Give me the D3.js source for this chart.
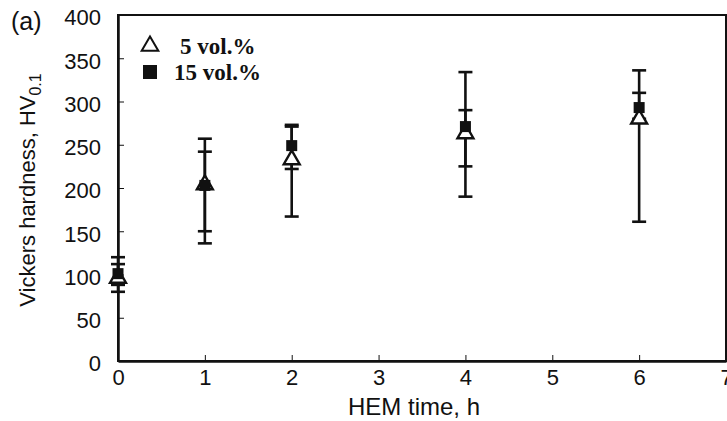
<!DOCTYPE HTML>
<html>
<head>
	<meta charset="utf-8">
	<style>
		body { margin: 0; background: #fff; }
		.axis text { font-family: "Liberation Sans", Arial, sans-serif; font-size: 22px; fill: #111; }
		.axis path, .axis line { stroke: #111; stroke-width: 2px; }
		.frame { fill: none; stroke: #111; stroke-width: 2px; }
		.err { stroke: #111; stroke-width: 2.6px; fill: none; }
		.lab { font-family: "Liberation Sans", Arial, sans-serif; font-size: 22px; fill: #111; }
		.leg { font-family: "Liberation Serif", "Times New Roman", serif; font-size: 23px; font-weight: bold; fill: #111; }
	</style>
	<script src="https://cdn.jsdelivr.net/npm/d3@7"></script>
</head>
<body>
<script>
// HEM time (h)
var times = [0, 1, 2, 4, 6];
// 5 vol.% (triangles)
var hv5 = [97, 205, 234, 264, 281];
var hv5Lo = [80, 136, 167, 190, 161];
var hv5Hi = [120, 257, 273, 334, 336];
// 15 vol.% (squares)
var hv15 = [101, 203, 249, 271, 293];
var hv15Lo = [88, 150, 222, 225, 280];
var hv15Hi = [112, 242, 271, 290, 310];
var xTicks = [0, 1, 2, 3, 4, 5, 6, 7];
var yTicks = [0, 50, 100, 150, 200, 250, 300, 350, 400];

var margin = {top: 15, right: 1, bottom: 60, left: 118};
var width = 727 - margin.left - margin.right;
var height = 421 - margin.top - margin.bottom;

var svg = d3.select("body").append("svg")
	.attr("width", 727)
	.attr("height", 421);
var g = svg.append("g")
	.attr("transform", "translate(" + margin.left + "," + margin.top + ")");

var x = d3.scaleLinear().domain([0, 7]).range([0, width]);
var y = d3.scaleLinear().domain([0, 400]).range([height, 0]);

g.append("g")
	.attr("class", "axis")
	.attr("transform", "translate(0," + height + ")")
	.call(d3.axisBottom(x).tickValues(xTicks).tickFormat(d3.format("d")).tickSize(-6).tickPadding(14).tickSizeOuter(0));
g.append("g")
	.attr("class", "axis")
	.call(d3.axisLeft(y).tickValues(yTicks).tickSize(-6).tickPadding(17).tickSizeOuter(0));
g.selectAll(".axis .tick line").style("stroke-width", "1px");
g.selectAll(".axis .tick text").attr("dy", "0.45em");
g.selectAll(".axis .domain").style("stroke-width", "2.5px");

g.append("rect")
	.attr("class", "frame")
	.attr("x", 0).attr("y", 0)
	.attr("width", width).attr("height", height);

var pts = times.map(function(t, i) {
	return {t: t, a: hv5[i], aLo: hv5Lo[i], aHi: hv5Hi[i], b: hv15[i], bLo: hv15Lo[i], bHi: hv15Hi[i]};
});

var capW = 7;
function errBar(sel, lo, hi) {
	sel.append("line").attr("class", "err")
		.attr("x1", function(d) { return x(d.t); }).attr("x2", function(d) { return x(d.t); })
		.attr("y1", function(d) { return y(d[lo]); }).attr("y2", function(d) { return y(d[hi]); });
	[lo, hi].forEach(function(k) {
		sel.append("line").attr("class", "err")
			.attr("x1", function(d) { return x(d.t) - capW; }).attr("x2", function(d) { return x(d.t) + capW; })
			.attr("y1", function(d) { return y(d[k]); }).attr("y2", function(d) { return y(d[k]); });
	});
}

var pg = g.selectAll(".pt").data(pts).enter().append("g").attr("class", "pt");
errBar(pg, "aLo", "aHi");
errBar(pg, "bLo", "bHi");

var tri = d3.symbol().type(d3.symbolTriangle).size(110);
pg.append("path")
	.attr("d", tri)
	.attr("transform", function(d) { return "translate(" + x(d.t) + "," + (y(d.a) + 1) + ")"; })
	.attr("fill", "#fff").attr("stroke", "#111").attr("stroke-width", 2.4);
pg.append("rect")
	.attr("x", function(d) { return x(d.t) - 5.5; })
	.attr("y", function(d) { return y(d.b) - 5.5; })
	.attr("width", 11).attr("height", 11)
	.attr("fill", "#111");

// legend
var leg = svg.append("g").attr("transform", "translate(150,0)");
leg.append("path")
	.attr("d", d3.symbol().type(d3.symbolTriangle).size(120))
	.attr("transform", "translate(0,46)")
	.attr("fill", "#fff").attr("stroke", "#111").attr("stroke-width", 2);
leg.append("text").attr("class", "leg").attr("x", 30).attr("y", 54).text("5 vol.%");
leg.append("rect").attr("x", -7).attr("y", 65).attr("width", 14).attr("height", 14).attr("fill", "#111");
leg.append("text").attr("class", "leg").attr("x", 24).attr("y", 80).text("15 vol.%");

// labels
svg.append("text").attr("class", "lab").style("font-size", "25px").attr("x", 11).attr("y", 30).text("(a)");
svg.append("text").attr("class", "lab").style("font-size", "24px")
	.attr("x", margin.left + width / 2 - 8).attr("y", 415)
	.attr("text-anchor", "middle").text("HEM time, h");
var yl = svg.append("text").attr("class", "lab")
	.attr("text-anchor", "middle")
	.attr("transform", "translate(35,190) rotate(-90)");
yl.append("tspan").text("Vickers hardness, HV");
yl.append("tspan").attr("dy", "6").style("font-size", "16px").text("0.1");
</script>
</body>
</html>
